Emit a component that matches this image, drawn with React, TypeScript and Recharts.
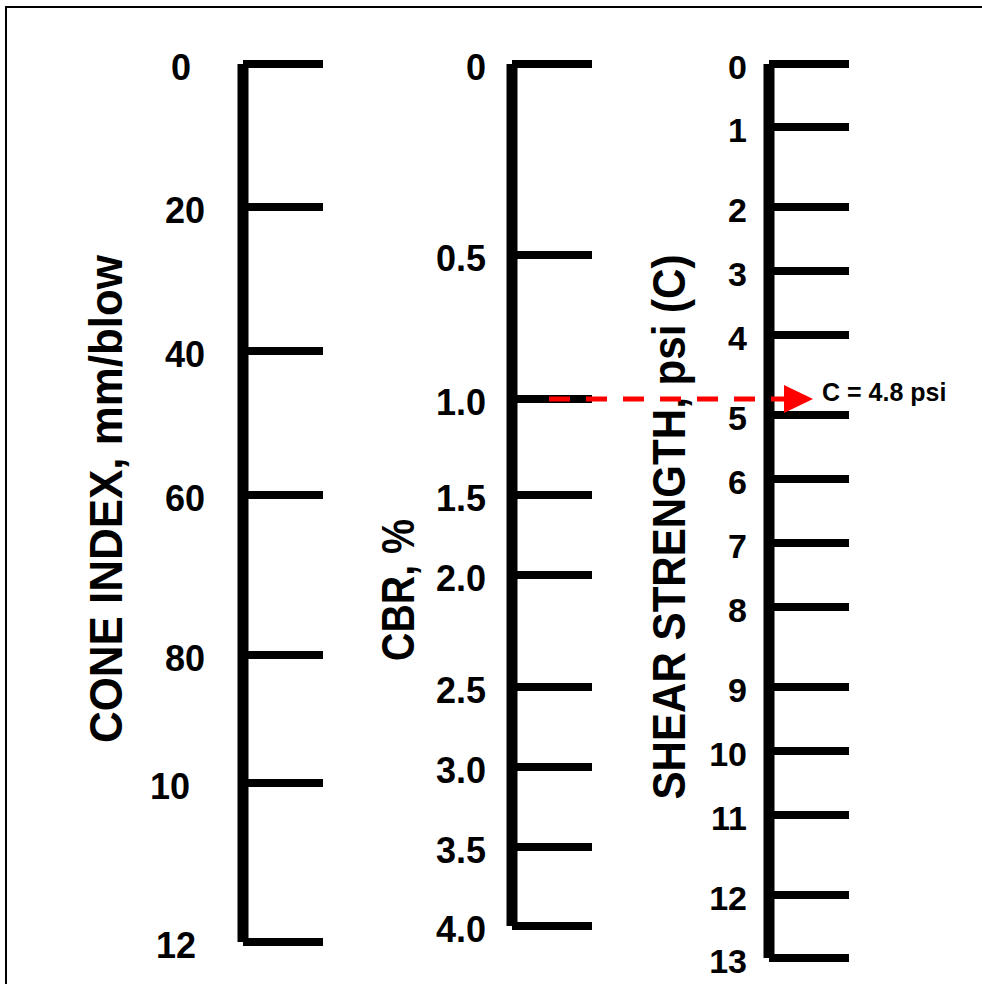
import React from 'react';
import { ComposedChart, XAxis, YAxis, Scatter, ReferenceLine, Customized } from 'recharts';

// ---------- data ----------
const coneLabels = ['0', '20', '40', '60', '80', '10', '12'];
const conePositions = [0, 143, 287, 431, 591, 719, 878];

const cbrLabels = ['0', '0.5', '1.0', '1.5', '2.0', '2.5', '3.0', '3.5', '4.0'];
const cbrValues = [0, 0.5, 1, 1.5, 2, 2.5, 3, 3.5, 4];
const cbrPositions = [0, 191, 335, 431, 511, 623, 703, 783, 862];

const shearLabels = ['0', '1', '2', '3', '4', '5', '6', '7', '8', '9', '10', '11', '12', '13'];
const shearValues = [0, 1, 2, 3, 4, 5, 6, 7, 8, 9, 10, 11, 12, 13];
const shearPositions = [0, 63, 143, 207, 271, 351, 415, 479, 543, 623, 687, 751, 831, 894];

const cbrReading = 1.0;
const shearReading = 4.8;
const resultText = 'C = 4.8 psi';

const titles = ['CONE INDEX, mm/blow', 'CBR, %', 'SHEAR STRENGTH, psi (C)'];

// ---------- layout ----------
const W = 982;
const H = 984;
const TOP = 64;
const SPAN = 894;
const CONE_X = 243;
const CBR_X = 512;
const SHEAR_X = 769;
const TICK_LEN = 80;
const FONT = '"Liberation Sans", Arial, Helvetica, sans-serif';
const coneLabelShift = [14, 0, 0, 0, 0, 15, 9];

const posOf = (values: number[], positions: number[], v: number) => {
  for (let i = 0; i < values.length - 1; i++) {
    if (v >= values[i] && v <= values[i + 1]) {
      const t = (v - values[i]) / (values[i + 1] - values[i]);
      return positions[i] + t * (positions[i + 1] - positions[i]);
    }
  }
  return positions[positions.length - 1];
};

const yCbr = posOf(cbrValues, cbrPositions, cbrReading);
const yShear = posOf(shearValues, shearPositions, shearReading);

const coneData = coneLabels.map((label, i) => ({ x: CONE_X, y: conePositions[i], label, shift: coneLabelShift[i] }));
const cbrData = cbrLabels.map((label, i) => ({ x: CBR_X, y: cbrPositions[i], label, shift: 0 }));
const shearData = shearLabels.map((label, i) => ({ x: SHEAR_X, y: shearPositions[i], label, shift: 0 }));

const arrowData = [
  { x: CBR_X + 37, y: yCbr, kind: 'start', label: '' },
  { x: SHEAR_X + 15, y: yShear, kind: 'end', label: resultText },
];

const makeTickShape = (gap: number, fontSize: number) => (props: any) => {
  const { cx, cy, payload } = props;
  return (
    <g>
      <line x1={cx} x2={cx + TICK_LEN} y1={cy} y2={cy} stroke="#000" strokeWidth={8} />
      <text
        x={cx - gap - (payload.shift || 0)}
        y={cy + 3 + fontSize * 0.358}
        textAnchor="end"
        fontFamily={FONT}
        fontWeight={700}
        fontSize={fontSize}
        fill="#000"
      >
        {payload.label}
      </text>
    </g>
  );
};

const arrowShape = (props: any) => {
  const { cx, cy, payload } = props;
  if (payload.kind !== 'end') return <g />;
  return (
    <g>
      <polygon points={`${cx},${cy - 14} ${cx},${cy + 14} ${cx + 29},${cy}`} fill="#ff0000" />
      <text x={cx + 38} y={cy + 2} fontFamily={FONT} fontWeight={700} fontSize={25} fill="#000">
        {payload.label}
      </text>
    </g>
  );
};

const Titles = () => (
  <g fontFamily={FONT} fontWeight={700} fill="#000">
    <text transform="translate(122,499) rotate(-90)" textAnchor="middle" fontSize={46} textLength={488} lengthAdjust="spacingAndGlyphs">
      {titles[0]}
    </text>
    <text transform="translate(414,590) rotate(-90)" textAnchor="middle" fontSize={46} textLength={142} lengthAdjust="spacingAndGlyphs">
      {titles[1]}
    </text>
    <text transform="translate(685,527) rotate(-90)" textAnchor="middle" fontSize={46} textLength={545} lengthAdjust="spacingAndGlyphs">
      {titles[2]}
    </text>
  </g>
);

export default function App() {
  return (
    <div style={{ position: 'absolute', left: 0, top: 0, width: W, height: H, overflow: 'hidden', background: '#fff' }}>
      <div
        style={{
          position: 'absolute',
          left: 5,
          top: 6,
          width: 1200,
          height: 1200,
          borderTop: '2px solid #000',
          borderLeft: '2px solid #000',
        }}
      />
      <div style={{ position: 'absolute', left: 0, top: 0 }}>
        <ComposedChart width={W} height={H} margin={{ top: TOP, right: 0, bottom: H - TOP - SPAN, left: 0 }}>
          <XAxis type="number" dataKey="x" domain={[0, W]} hide />
          <YAxis type="number" dataKey="y" domain={[0, SPAN]} reversed hide />
          <ReferenceLine
            segment={[{ x: CONE_X, y: conePositions[0] }, { x: CONE_X, y: conePositions[conePositions.length - 1] }]}
            stroke="#000"
            strokeWidth={11}
            ifOverflow="visible"
          />
          <ReferenceLine
            segment={[{ x: CBR_X, y: cbrPositions[0] }, { x: CBR_X, y: cbrPositions[cbrPositions.length - 1] }]}
            stroke="#000"
            strokeWidth={11}
            ifOverflow="visible"
          />
          <ReferenceLine
            segment={[{ x: SHEAR_X, y: shearPositions[0] }, { x: SHEAR_X, y: shearPositions[shearPositions.length - 1] }]}
            stroke="#000"
            strokeWidth={11}
            ifOverflow="visible"
          />
          <Scatter data={coneData} shape={makeTickShape(38, 36)} isAnimationActive={false} />
          <Scatter data={cbrData} shape={makeTickShape(26, 36)} isAnimationActive={false} />
          <Scatter data={shearData} shape={makeTickShape(22, 34)} isAnimationActive={false} />
          <Scatter
            data={arrowData}
            shape={arrowShape}
            line={{ stroke: '#ff0000', strokeWidth: 5, strokeDasharray: '21 16' }}
            lineType="joint"
            isAnimationActive={false}
          />
          <Customized component={Titles} />
        </ComposedChart>
      </div>
    </div>
  );
}
